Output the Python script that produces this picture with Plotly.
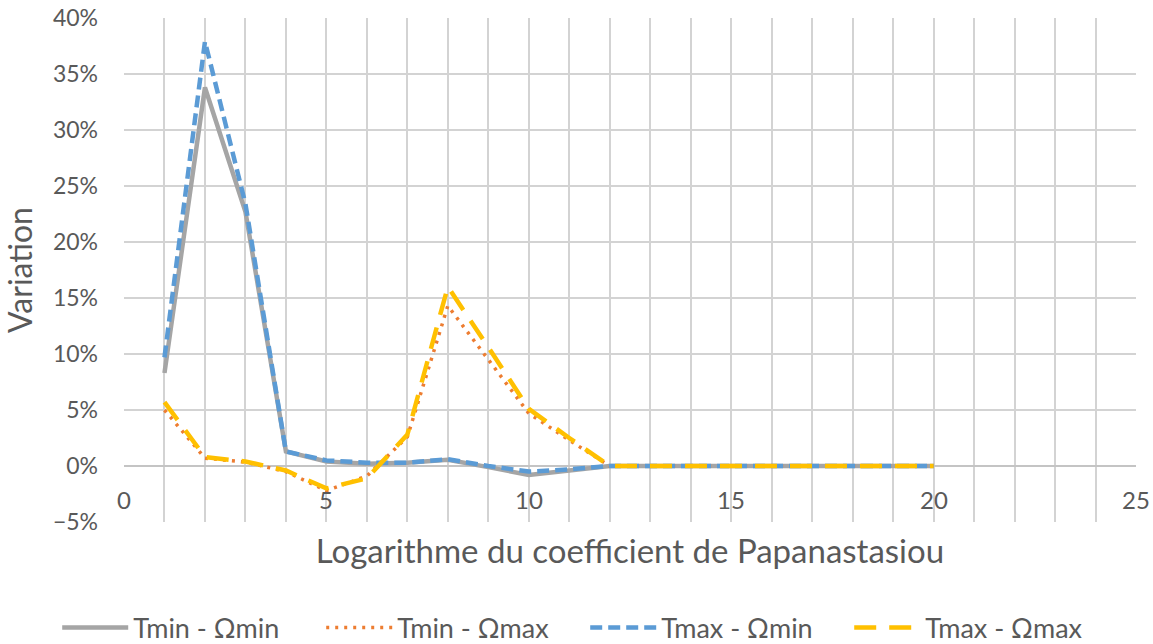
import plotly.graph_objects as go

x_vals = list(range(1, 21))
tmin_omin = [0.083, 0.338, 0.227, 0.013, 0.004, 0.002, 0.003, 0.0055, -0.001, -0.008, -0.004,
             0, 0, 0, 0, 0, 0, 0, 0, 0]
tmin_omax = [0.050, 0.007, 0.0035, -0.005, -0.022, -0.009, 0.026, 0.143, 0.095, 0.047, 0.023,
             0, 0, 0, 0, 0, 0, 0, 0, 0]
tmax_omin = [0.097, 0.379, 0.234, 0.013, 0.005, 0.003, 0.003, 0.006, 0.000, -0.005, -0.003,
             0, 0, 0, 0, 0, 0, 0, 0, 0]
tmax_omax = [0.057, 0.008, 0.004, -0.004, -0.020, -0.011, 0.028, 0.160, 0.106, 0.051, 0.025,
             0, 0, 0, 0, 0, 0, 0, 0, 0]
x_tick_vals = [0, 5, 10, 15, 20, 25]
series_names = ["Tmin - Ωmin", "Tmin - Ωmax", "Tmax - Ωmin", "Tmax - Ωmax"]

font_family = "Lato, 'Open Sans', sans-serif"
text_color = "#595959"

fig = go.Figure()
fig.add_trace(go.Scatter(x=x_vals, y=tmin_omin, mode="lines", name=series_names[0],
                         line=dict(color="#A5A5A5", width=4.5)))
fig.add_trace(go.Scatter(x=x_vals, y=tmin_omax, mode="lines", name=series_names[1],
                         line=dict(color="#ED7D31", width=3.5, dash="3px,6px")))
fig.add_trace(go.Scatter(x=x_vals, y=tmax_omin, mode="lines", name=series_names[2],
                         line=dict(color="#5B9BD5", width=4.5, dash="12px,6px")))
fig.add_trace(go.Scatter(x=x_vals, y=tmax_omax, mode="lines", name=series_names[3],
                         line=dict(color="#FFC000", width=4.5, dash="22px,13px")))

for v in x_tick_vals:
    fig.add_annotation(x=v, y=-0.03, xref="x", yref="y", text=str(v), showarrow=False,
                       font=dict(family=font_family, size=24, color=text_color))

fig.update_layout(
    width=1153, height=644,
    paper_bgcolor="white", plot_bgcolor="white",
    margin=dict(l=124, r=17, t=18, b=122, autoexpand=False),
    font=dict(family=font_family, color=text_color),
    xaxis=dict(range=[0, 25], dtick=1, tick0=0, showticklabels=False, automargin=False,
               showgrid=True, gridcolor="#D3D3D3", gridwidth=2, zeroline=False,
               showline=False,
               title=dict(text="Logarithme du coefficient de Papanastasiou",
                          font=dict(size=33, color=text_color), standoff=17)),
    yaxis=dict(range=[-0.05, 0.40], dtick=0.05, tickformat=".0%", automargin=False,
               showgrid=True, gridcolor="#D3D3D3", gridwidth=2,
               zeroline=True, zerolinecolor="#C4C4C4", zerolinewidth=2,
               tickfont=dict(size=23, color=text_color), ticks="", ticklabelstandoff=25,
               title=dict(text="Variation", font=dict(size=32, color=text_color), standoff=14)),
    legend=dict(orientation="h", x=-0.066, xanchor="left", y=-0.21, yanchor="middle",
                font=dict(size=27, color=text_color), itemwidth=66,
                entrywidth=183, entrywidthmode="pixels"),
    showlegend=True,
)

fig.write_html("out.html", config={"displayModeBar": False},
               post_script="document.body.style.margin='0px';")
